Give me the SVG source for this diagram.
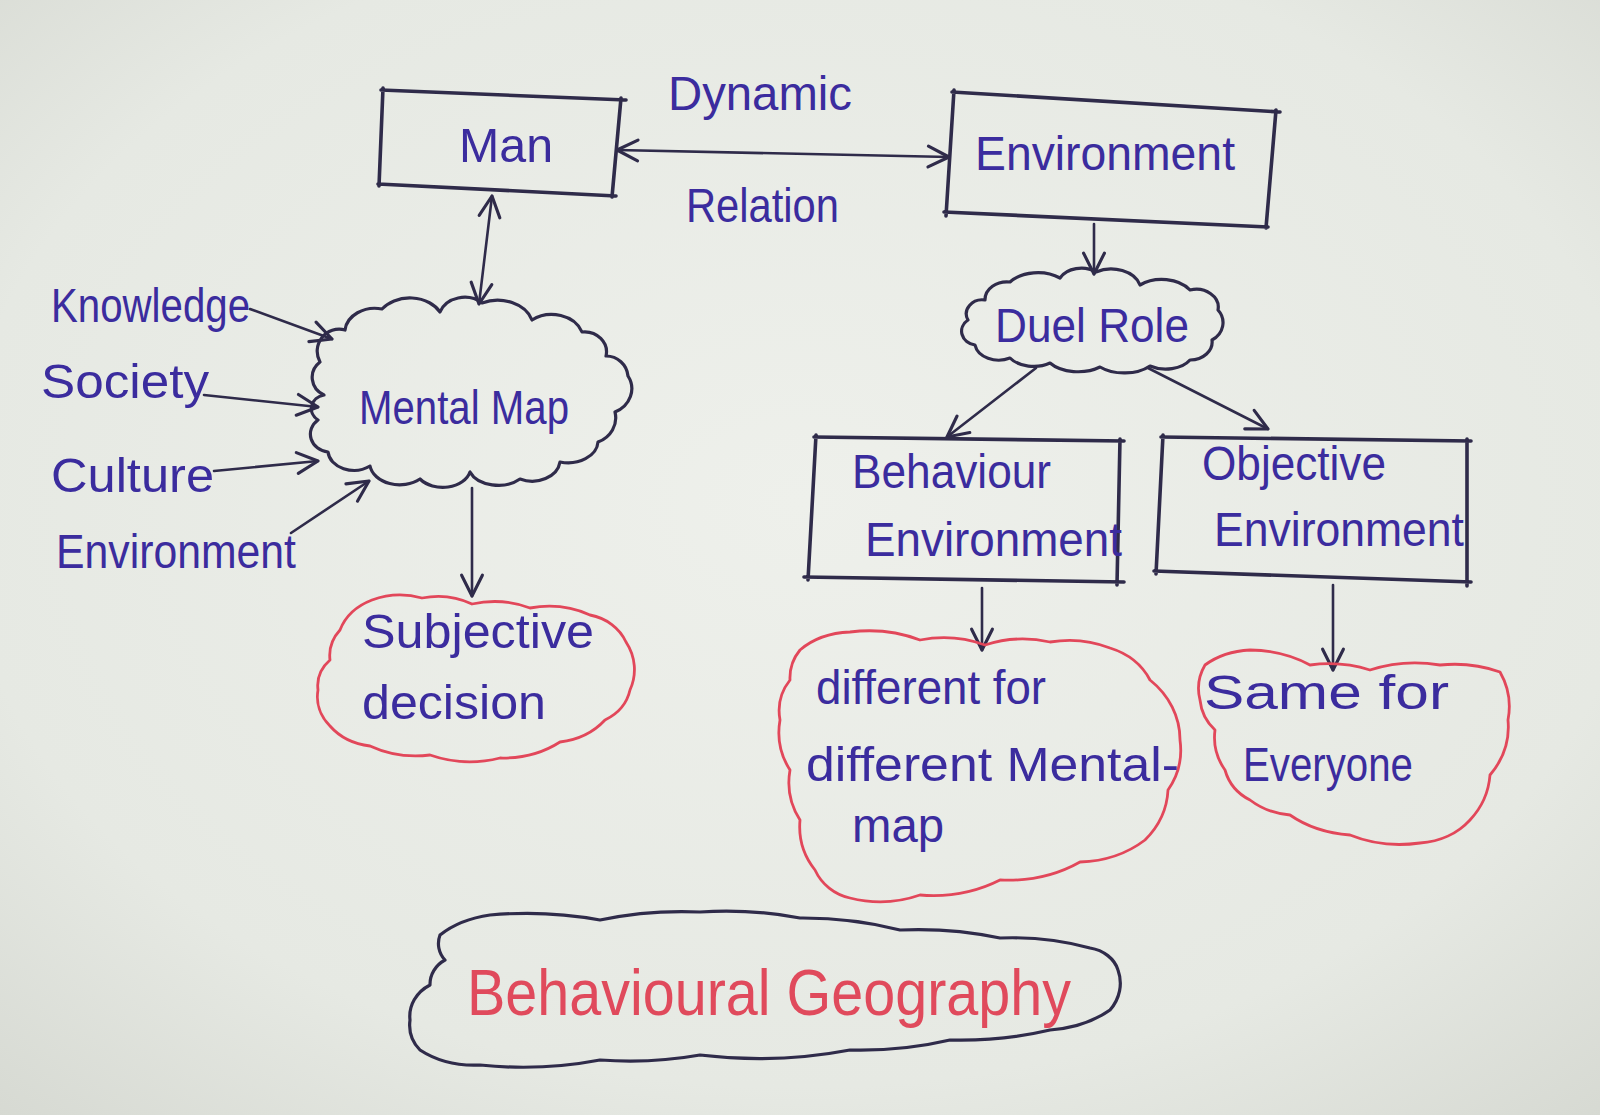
<svg xmlns="http://www.w3.org/2000/svg" width="1600" height="1115" viewBox="0 0 1600 1115">
<defs>
<radialGradient id="paper" cx="0.5" cy="0.45" r="0.75">
<stop offset="0" stop-color="#eef0eb"/>
<stop offset="0.7" stop-color="#e6e9e3"/>
<stop offset="1" stop-color="#d6d9d2"/>
</radialGradient>
<marker id="ah" viewBox="0 0 20 20" refX="18" refY="10" markerWidth="26" markerHeight="26" markerUnits="userSpaceOnUse" orient="auto-start-reverse">
<path d="M2,2 L18,10 L2,18" fill="none" stroke="#2f2b4a" stroke-width="2.4" stroke-linecap="round" stroke-linejoin="round"/>
</marker>
</defs>
<style>
.box{fill:none;stroke:#2f2b4a;stroke-width:3.6;stroke-linecap:round;stroke-linejoin:round}
.cloud{fill:none;stroke:#2f2b4a;stroke-width:3.2;stroke-linejoin:round}
.rcloud{fill:none;stroke:#e2475a;stroke-width:2.8;stroke-linejoin:round}
.con{fill:none;stroke:#2f2b4a;stroke-width:2.6;stroke-linecap:round;marker-end:url(#ah)}
.dbl{marker-start:url(#ah)}
.t{font-family:"Liberation Sans","DejaVu Sans",sans-serif;fill:#3b2c9e;font-size:48px}
.rt{font-family:"Liberation Sans","DejaVu Sans",sans-serif;fill:#e04a5c;font-size:64px}
</style>
<rect width="1600" height="1115" fill="url(#paper)"/>

<g id="connectors">
<path class="con dbl" d="M617,150 L949,157"/>
<path class="con dbl" d="M492,196 L479,304"/>
<path class="con" d="M250,309 L332,339"/>
<path class="con" d="M204,395 L318,407"/>
<path class="con" d="M214,471 L318,461"/>
<path class="con" d="M291,533 L369,481"/>
<path class="con" d="M472,488 L472,596"/>
<path class="con" d="M1094,224 L1094,274"/>
<path class="con" d="M1036,368 L947,437"/>
<path class="con" d="M1148,368 L1268,429"/>
<path class="con" d="M982,588 L982,650"/>
<path class="con" d="M1333,585 L1333,670"/>
</g>

<g id="label-dynamic">
<text class="t" x="668" y="110" font-size="44" textLength="184" lengthAdjust="spacingAndGlyphs">Dynamic</text>
</g>
<g id="label-relation">
<text class="t" x="686" y="222" font-size="46" textLength="153" lengthAdjust="spacingAndGlyphs">Relation</text>
</g>

<g id="node-man">
<path class="box" d="M381,90 L626,100 M621,98 L612,197 M378,184 L616,196 M383,88 L379,186"/>
<text class="t" x="459" y="162" font-size="60" textLength="94" lengthAdjust="spacingAndGlyphs">Man</text>
</g>

<g id="node-environment">
<path class="box" d="M952,92 L1280,112 M1276,110 L1266,228 M944,212 L1268,227 M954,90 L946,216"/>
<text class="t" x="975" y="170" font-size="56" textLength="260" lengthAdjust="spacingAndGlyphs">Environment</text>
</g>

<g id="node-mental-map">
<path class="cloud" d="M345,330 A30,24 0 0 1 382,309 A34,26 0 0 1 440,312 A26,22 0 0 1 482,303 A36,28 0 0 1 532,320 A32,26 0 0 1 582,332 A22,20 0 0 1 606,356 A22,22 0 0 1 628,376 A30,26 0 0 1 615,412 A28,26 0 0 1 598,442 A30,22 0 0 1 560,462 A28,22 0 0 1 520,479 A30,20 0 0 1 470,472 A28,20 0 0 1 420,479 A30,22 0 0 1 370,466 A26,20 0 0 1 328,452 A20,18 0 0 1 318,420 A16,14 0 0 1 324,395 A22,20 0 0 1 320,362 A22,22 0 0 1 345,330 Z"/>
<text class="t" x="359" y="424" font-size="50" textLength="210" lengthAdjust="spacingAndGlyphs">Mental Map</text>
</g>

<g id="label-knowledge">
<text class="t" x="51" y="322" font-size="50" textLength="199" lengthAdjust="spacingAndGlyphs">Knowledge</text>
</g>
<g id="label-society">
<text class="t" x="41" y="398" font-size="46" textLength="168" lengthAdjust="spacingAndGlyphs">Society</text>
</g>
<g id="label-culture">
<text class="t" x="51" y="492" font-size="48" textLength="163" lengthAdjust="spacingAndGlyphs">Culture</text>
</g>
<g id="label-environment-left">
<text class="t" x="56" y="568" font-size="46" textLength="240" lengthAdjust="spacingAndGlyphs">Environment</text>
</g>

<g id="node-subjective-decision">
<path class="rcloud" d="M340,630 A60,50 0 0 1 372,600 A70,60 0 0 1 422,598 A70,60 0 0 1 472,604 A80,60 0 0 1 530,608 A80,60 0 0 1 590,615 A50,44 0 0 1 626,642 A60,54 0 0 1 630,690 A50,44 0 0 1 605,720 A70,60 0 0 1 560,742 A90,70 0 0 1 500,758 A100,80 0 0 1 430,755 A90,70 0 0 1 370,746 A60,50 0 0 1 330,726 A50,44 0 0 1 318,690 A40,36 0 0 1 330,660 A44,40 0 0 1 340,630 Z"/>
<text class="t" x="362" y="648" font-size="48" textLength="232" lengthAdjust="spacingAndGlyphs">Subjective</text>
<text class="t" x="362" y="719" font-size="48" textLength="184" lengthAdjust="spacingAndGlyphs">decision</text>
</g>

<g id="node-duel-role">
<path class="cloud" d="M985,300 A22,18 0 0 1 1010,282 A34,22 0 0 1 1060,278 A24,18 0 0 1 1096,272 A30,22 0 0 1 1140,285 A34,24 0 0 1 1190,290 A22,18 0 0 1 1218,310 A22,20 0 0 1 1212,340 A22,18 0 0 1 1190,360 A28,18 0 0 1 1150,366 A34,20 0 0 1 1100,367 A34,20 0 0 1 1050,363 A28,18 0 0 1 1010,358 A24,18 0 0 1 975,345 A16,14 0 0 1 968,320 A16,14 0 0 1 985,300 Z"/>
<text class="t" x="995" y="342" font-size="46" textLength="194" lengthAdjust="spacingAndGlyphs">Duel Role</text>
</g>

<g id="node-behaviour-environment">
<path class="box" d="M814,437 L1124,441 M1120,439 L1117,585 M804,577 L1124,582 M816,435 L808,580"/>
<text class="t" x="852" y="488" font-size="48" textLength="199" lengthAdjust="spacingAndGlyphs">Behaviour</text>
<text class="t" x="865" y="556" font-size="48" textLength="257" lengthAdjust="spacingAndGlyphs">Environment</text>
</g>

<g id="node-objective-environment">
<path class="box" d="M1161,437 L1471,441 M1467,439 L1467,586 M1154,571 L1471,582 M1163,435 L1156,574"/>
<text class="t" x="1202" y="480" font-size="48" textLength="184" lengthAdjust="spacingAndGlyphs">Objective</text>
<text class="t" x="1214" y="546" font-size="48" textLength="250" lengthAdjust="spacingAndGlyphs">Environment</text>
</g>

<g id="node-different">
<path class="rcloud" d="M800,650 A70,50 0 0 1 850,632 A110,80 0 0 1 920,640 A100,80 0 0 1 985,645 A100,80 0 0 1 1050,642 A90,70 0 0 1 1110,648 A70,60 0 0 1 1150,680 A90,80 0 0 1 1180,740 A70,70 0 0 1 1168,790 A90,80 0 0 1 1145,840 A100,80 0 0 1 1080,862 A120,90 0 0 1 1000,880 A120,90 0 0 1 920,895 A100,80 0 0 1 850,898 A50,50 0 0 1 815,870 A70,70 0 0 1 800,820 A70,70 0 0 1 790,770 A70,70 0 0 1 780,720 A50,50 0 0 1 790,680 A44,44 0 0 1 800,650 Z"/>
<text class="t" x="816" y="704" font-size="50" textLength="230" lengthAdjust="spacingAndGlyphs">different for</text>
<text class="t" x="806" y="781" font-size="48" textLength="373" lengthAdjust="spacingAndGlyphs">different Mental-</text>
<text class="t" x="852" y="842" font-size="50" textLength="92" lengthAdjust="spacingAndGlyphs">map</text>
</g>

<g id="node-same">
<path class="rcloud" d="M1205,665 A70,50 0 0 1 1250,650 A100,70 0 0 1 1310,665 A100,70 0 0 1 1370,670 A110,80 0 0 1 1440,665 A100,70 0 0 1 1500,672 A70,70 0 0 1 1508,720 A90,80 0 0 1 1490,775 A80,76 0 0 1 1470,820 A70,60 0 0 1 1420,843 A100,70 0 0 1 1350,835 A100,70 0 0 1 1290,815 A70,60 0 0 1 1250,800 A50,48 0 0 1 1225,770 A60,58 0 0 1 1215,730 A50,48 0 0 1 1200,700 A50,48 0 0 1 1205,665 Z"/>
<text class="t" x="1204" y="709" font-size="46" textLength="245" lengthAdjust="spacingAndGlyphs">Same for</text>
<text class="t" x="1243" y="781" font-size="48" textLength="170" lengthAdjust="spacingAndGlyphs">Everyone</text>
</g>

<g id="node-behavioural-geography">
<path class="cloud" d="M440,935 A90,60 0 0 1 490,915 A240,140 0 0 1 600,920 A240,140 0 0 1 700,912 A240,140 0 0 1 800,918 A240,140 0 0 1 900,930 A240,140 0 0 1 1000,938 A200,130 0 0 1 1090,948 A36,30 0 0 1 1118,970 A50,44 0 0 1 1110,1010 A100,70 0 0 1 1050,1030 A240,140 0 0 1 950,1040 A240,140 0 0 1 850,1050 A300,180 0 0 1 700,1055 A240,140 0 0 1 600,1060 A260,160 0 0 1 480,1065 A80,56 0 0 1 420,1050 A36,36 0 0 1 410,1020 A40,36 0 0 1 430,985 A30,28 0 0 1 445,960 A24,24 0 0 1 440,935 Z"/>
<text class="rt" x="467" y="1015" font-size="64" textLength="604" lengthAdjust="spacingAndGlyphs">Behavioural Geography</text>
</g>
</svg>
